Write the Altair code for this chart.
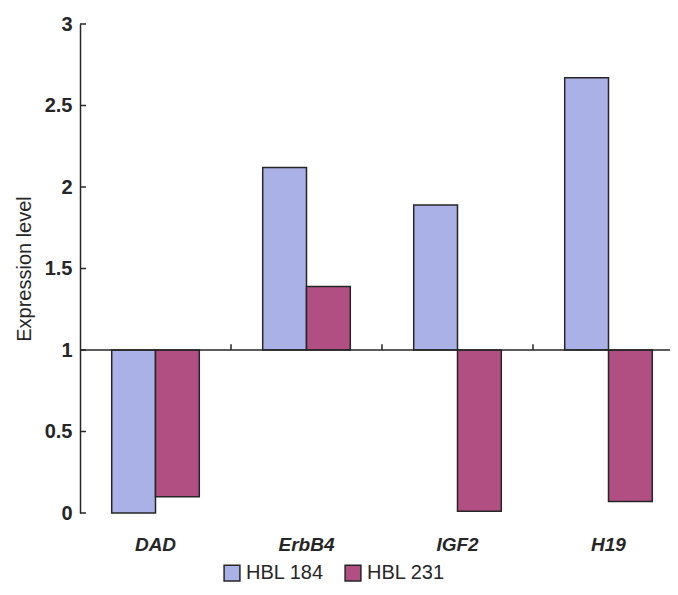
import altair as alt
import pandas as pd

genes = ["DAD", "ErbB4", "IGF2", "H19"]
series_names = ["HBL 184", "HBL 231"]
hbl184 = [0.0, 2.12, 1.89, 2.67]
hbl231 = [0.10, 1.39, 0.01, 0.07]
y_ticks = [0, 0.5, 1, 1.5, 2, 2.5, 3]
colors = ["#aab1e6", "#b24f82"]
baseline = 1

rows = []
for g, a, b in zip(genes, hbl184, hbl231):
    rows.append({"gene": g, "series": series_names[0], "value": a, "base": baseline})
    rows.append({"gene": g, "series": series_names[1], "value": b, "base": baseline})
df = pd.DataFrame(rows)

FONT = "Liberation Sans"
INK = "#262626"
yscale = alt.Scale(domain=[0, 3], nice=False)

bars = alt.Chart(df).mark_bar(stroke=INK, strokeWidth=1.5).encode(
    x=alt.X(
        "gene:N",
        sort=genes,
        scale=alt.Scale(domain=genes, range=[0, 604], paddingInner=0.42, paddingOuter=0.21),
        axis=alt.Axis(
            title=None, labelFont=FONT, labelFontSize=19, labelFontWeight="bold",
            labelFontStyle="italic", labelColor=INK, labelAngle=0, domain=False,
            ticks=False, labelPadding=22,
        ),
    ),
    xOffset=alt.XOffset("series:N", sort=series_names,
                        scale=alt.Scale(domain=series_names, paddingInner=0, paddingOuter=0)),
    y=alt.Y(
        "value:Q",
        scale=yscale,
        axis=alt.Axis(
            values=y_ticks, format="~g", ticks=False, grid=False,
            domainColor=INK, domainWidth=1.5,
            labelFont=FONT, labelFontSize=20, labelFontWeight="bold", labelColor=INK,
            labelPadding=8,
            title="Expression level", titleFont=FONT, titleFontSize=20,
            titleFontWeight="normal", titleColor=INK, titlePadding=10,
        ),
    ),
    y2=alt.Y2("base:Q"),
    color=alt.Color(
        "series:N",
        scale=alt.Scale(domain=series_names, range=colors),
        legend=alt.Legend(
            orient="none", legendX=142, legendY=539, direction="horizontal",
            title=None, symbolType="square", symbolSize=250,
            symbolStrokeColor=INK, symbolStrokeWidth=1.5, symbolOpacity=1,
            labelFont=FONT, labelFontSize=20, labelColor=INK, columnPadding=18,
        ),
    ),
)

base_rule = alt.Chart(pd.DataFrame({"y": [baseline]})).mark_rule(
    color=INK, strokeWidth=1.5
).encode(
    y=alt.Y("y:Q", scale=yscale),
    x=alt.value(0),
    x2=alt.value(590),
)

ytick_rules = alt.Chart(pd.DataFrame({"t": y_ticks})).mark_rule(
    color=INK, strokeWidth=1.5
).encode(
    y=alt.Y("t:Q", scale=yscale),
    x=alt.value(0),
    x2=alt.value(6),
)

xtick_rules = alt.Chart(pd.DataFrame({"gene": genes[1:]})).mark_rule(
    color=INK, strokeWidth=1.5
).encode(
    x=alt.X("gene:N", bandPosition=0,
            scale=alt.Scale(domain=genes, range=[0, 604], paddingInner=0, paddingOuter=0),
            axis=None),
    y=alt.datum(1),
    y2=alt.datum(1.035),
)

chart = alt.layer(bars, base_rule, ytick_rules, xtick_rules).resolve_scale(
    x="independent"
).properties(
    width=590,
    height=489,
    autosize=alt.AutoSizeParams(type="none"),
    padding={"left": 72, "top": 16, "right": 0, "bottom": 74},
    background="white",
).configure_view(stroke=None)

chart.save("out.html", embed_options={"renderer": "svg", "actions": False})
